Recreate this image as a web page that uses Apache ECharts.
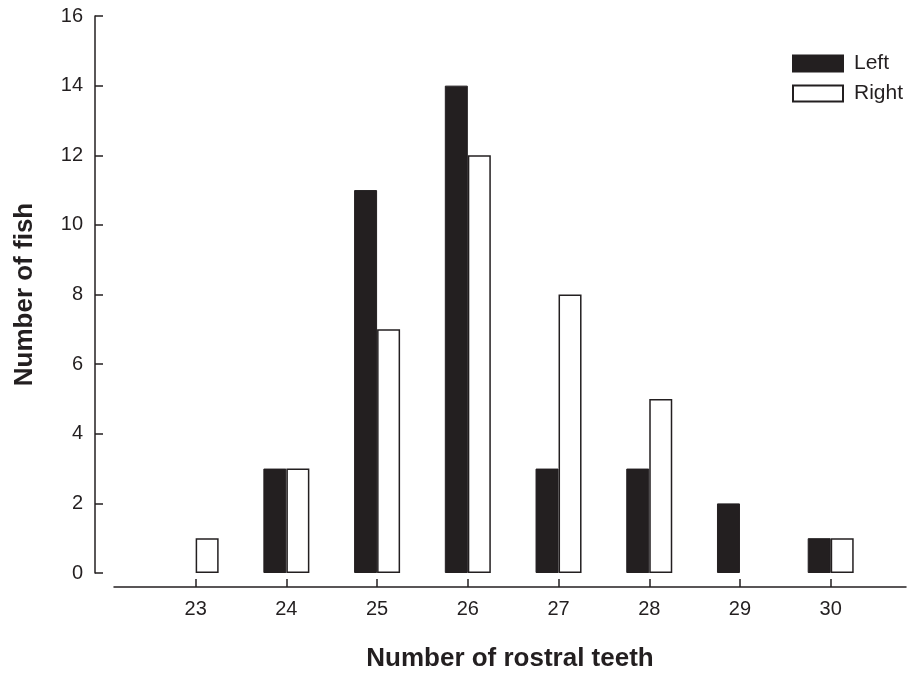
<!DOCTYPE html>
<html>
<head>
<meta charset="utf-8">
<script src="https://cdn.jsdelivr.net/npm/echarts@6/dist/echarts.min.js"></script>
<style>
  html, body { margin: 0; padding: 0; background: #fff; }
  #chart { width: 912px; height: 674px; }
</style>
</head>
<body>
<div id="chart"></div>
<script>
// Rostral teeth counts (left and right side) per fish
const teethCounts = [23, 24, 25, 26, 27, 28, 29, 30];
const leftFish  = [0, 3, 11, 14, 3, 3, 2, 1];
const rightFish = [1, 3, 7, 12, 8, 5, 0, 1];
const yTicks = [0, 2, 4, 6, 8, 10, 12, 14, 16];

const ink = '#231f20';
const font = '"Liberation Sans", Arial, sans-serif';

// empty classes get no bar at all (not even a flat outline)
const toBars = counts => teethCounts.map((t, i) => counts[i] > 0 ? [t, counts[i]] : [t, null]);

const chart = echarts.init(document.getElementById('chart'), null, { renderer: 'canvas' });

chart.setOption({
  animation: false,
  backgroundColor: '#ffffff',
  textStyle: { fontFamily: font, color: ink },
  grid: { left: 114, right: 6, top: 16, bottom: 101, containLabel: false, outerBoundsMode: 'none' },
  legend: {
    orient: 'vertical',
    left: 792,
    top: 53,
    padding: 0,
    itemWidth: 50,
    itemHeight: 16,
    itemGap: 9,
    icon: 'rect',
    textStyle: { fontFamily: font, fontSize: 21, color: ink, padding: [0, 0, 0, 6] },
    data: ['Left', 'Right']
  },
  xAxis: {
    type: 'value',
    min: 22.1,
    max: 30.83,
    offset: 14,
    name: 'Number of rostral teeth',
    nameLocation: 'middle',
    nameGap: 59,
    nameTextStyle: { fontFamily: font, fontSize: 26, fontWeight: 'bold', color: ink },
    axisLine: { show: true, onZero: false, lineStyle: { color: ink, width: 1.5 } },
    axisTick: { show: true, inside: true, length: 8, lineStyle: { color: ink, width: 1.5 }, customValues: teethCounts },
    axisLabel: { fontFamily: font, fontSize: 20, color: ink, margin: 12, customValues: teethCounts },
    splitLine: { show: false }
  },
  yAxis: {
    type: 'value',
    min: 0,
    max: 16,
    interval: 2,
    offset: 19,
    name: 'Number of fish',
    nameLocation: 'middle',
    nameGap: 57,
    nameTextStyle: { fontFamily: font, fontSize: 26, fontWeight: 'bold', color: ink },
    axisLine: { show: true, onZero: false, lineStyle: { color: ink, width: 1.5 } },
    axisTick: { show: true, inside: true, length: 8, lineStyle: { color: ink, width: 1.5 } },
    axisLabel: {
      fontFamily: font, fontSize: 20, color: ink, margin: 12,
      customValues: yTicks
    },
    splitLine: { show: false }
  },
  series: [
    {
      name: 'Left',
      type: 'bar',
      barWidth: 23,
      barGap: '0%',
      itemStyle: { color: ink, borderColor: ink, borderWidth: 1 },
      data: toBars(leftFish)
    },
    {
      name: 'Right',
      type: 'bar',
      barWidth: 23,
      barGap: '0%',
      itemStyle: { color: '#ffffff', borderColor: ink, borderWidth: 1.5 },
      data: toBars(rightFish)
    }
  ]
});
</script>
</body>
</html>
